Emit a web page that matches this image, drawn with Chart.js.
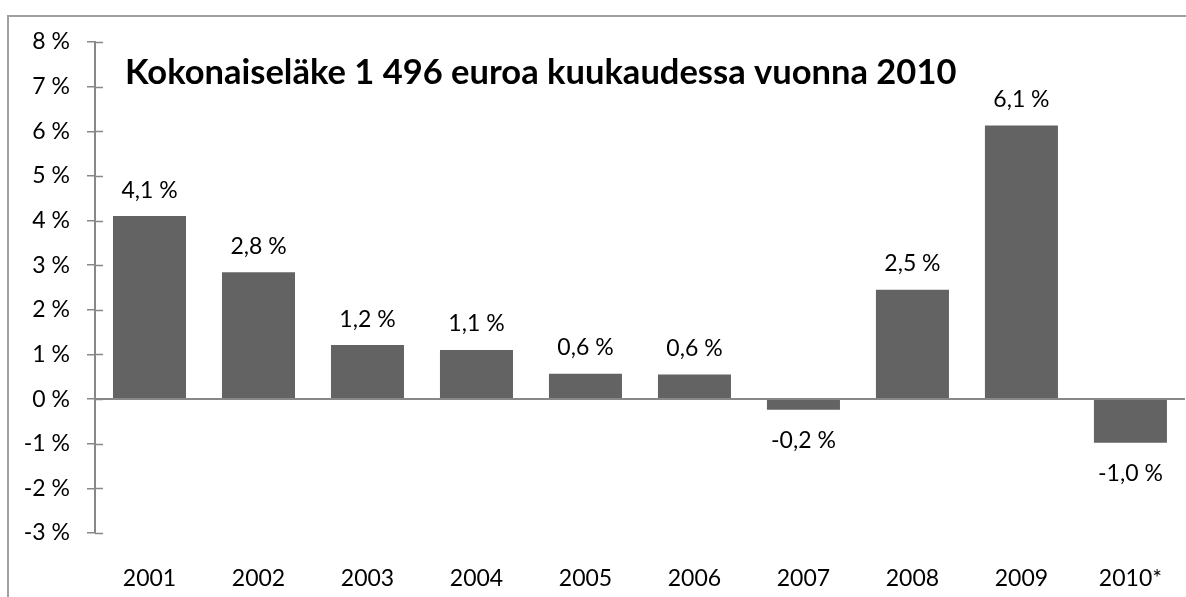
<!DOCTYPE html>
<html><head><meta charset="utf-8">
<script src="https://cdn.jsdelivr.net/npm/chart.js@4"></script>
<style>html,body{margin:0;padding:0;background:#fff;}#wrap{width:1186px;height:597px;position:relative;}</style>
</head><body><div id="wrap"><canvas id="c" width="1186" height="597"></canvas></div>
<script>
const categories = ['2001','2002','2003','2004','2005','2006','2007','2008','2009','2010*'];
const values = [4.1, 2.84, 1.21, 1.1, 0.57, 0.55, -0.24, 2.45, 6.13, -0.98];
const dataLabels = ['4,1 %','2,8 %','1,2 %','1,1 %','0,6 %','0,6 %','-0,2 %','2,5 %','6,1 %','-1,0 %'];
const yTicks = [-3,-2,-1,0,1,2,3,4,5,6,7,8];
const title = 'Kokonaiseläke 1 496 euroa kuukaudessa vuonna 2010';
const FONT = 'Lato, "Open Sans", sans-serif';
const AX = '#888888';

const deco = {
  id:'deco',
  beforeDraw(chart){
    const ctx = chart.ctx;
    ctx.save();
    ctx.strokeStyle = '#a0a0a0';
    ctx.lineWidth = 2;
    ctx.beginPath();
    ctx.moveTo(8, 597); ctx.lineTo(8, 16); ctx.lineTo(1186, 16);
    ctx.stroke();
    ctx.restore();
  },
  afterDatasetsDraw(chart){
    const ctx = chart.ctx, y = chart.scales.y, a = chart.chartArea;
    ctx.save();
    ctx.strokeStyle = AX; ctx.lineWidth = 2;
    const y0 = Math.round(y.getPixelForValue(0));
    ctx.beginPath(); ctx.moveTo(a.left, y0); ctx.lineTo(a.right, y0); ctx.stroke();
    ctx.lineWidth = 1.5;
    yTicks.forEach(v=>{
      const py = Math.round(y.getPixelForValue(v)) + 0.5;
      ctx.beginPath(); ctx.moveTo(a.left, py); ctx.lineTo(a.left + 8, py); ctx.stroke();
    });
    const meta = chart.getDatasetMeta(0);
    ctx.fillStyle = '#000';
    ctx.font = '23px ' + FONT;
    ctx.textAlign = 'center'; ctx.textBaseline = 'middle';
    meta.data.forEach((bar,i)=>{
      const v = values[i];
      const ly = v >= 0 ? bar.y - 26 : bar.y + 31;
      ctx.fillText(dataLabels[i], bar.x, ly);
    });
    ctx.font = 'bold 34.5px ' + FONT;
    ctx.textAlign = 'left';
    ctx.fillText(title, 125, 73);
    ctx.restore();
  }
};

new Chart(document.getElementById('c'), {
  type:'bar',
  data:{ labels: categories, datasets:[{ data: values, backgroundColor:'#636363', borderWidth:0, barPercentage:0.67, categoryPercentage:1 }]},
  options:{
    responsive:false, animation:false,
    layout:{ padding:{ top:42, right:0, left:0, bottom:0 } },
    plugins:{ legend:{display:false}, tooltip:{enabled:false}, title:{display:false} },
    scales:{
      x:{
        grid:{ display:false },
        border:{ display:false },
        ticks:{ color:'#000', font:{ family:FONT, size:23 }, padding:24, maxRotation:0 },
        afterFit(s){ s.height = 64; }
      },
      y:{
        min:-3, max:8,
        afterBuildTicks(s){ s.ticks = yTicks.map(v=>({value:v})); },
        grid:{ drawOnChartArea:false, drawTicks:true, tickLength:8, color:AX, lineWidth:1.5 },
        border:{ display:true, color:AX, width:2 },
        ticks:{ color:'#000', font:{ family:FONT, size:23 }, padding:17, callback:(v)=> v + ' %' },
        afterFit(s){ s.width = 95; }
      }
    }
  },
  plugins:[deco]
});
</script></body></html>
